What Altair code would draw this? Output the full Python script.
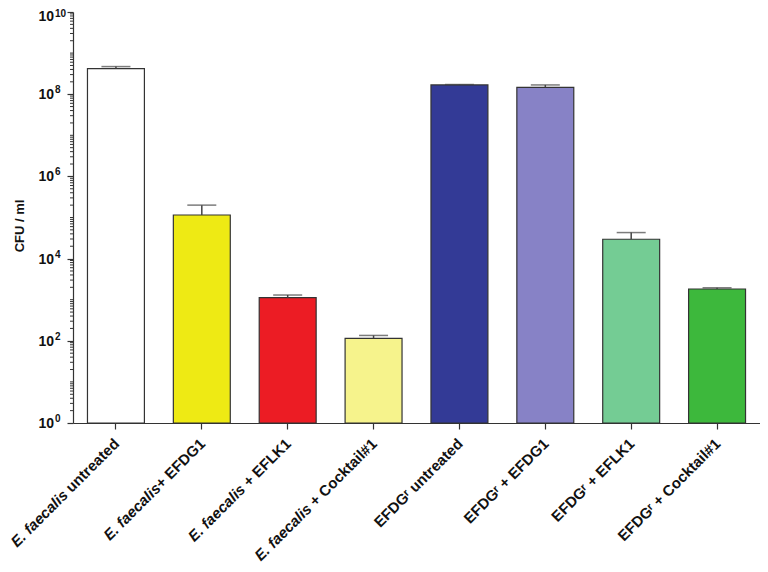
import altair as alt
import pandas as pd

# ---- data ----
italic_part = ["E. faecalis", "E. faecalis", "E. faecalis", "E. faecalis", "", "", "", ""]
plain_part = ["untreated", "+ EFDG1", "+ EFLK1", "+ Cocktail#1",
              "EFDGʳ untreated", "EFDGʳ + EFDG1", "EFDGʳ + EFLK1", "EFDGʳ + Cocktail#1"]
space_before = [True, False, True, True, False, False, False, False]
cfu = [4.2e8, 1.15e5, 1.12e3, 115, 1.68e8, 1.47e8, 2.96e4, 1.82e3]
err_top = [4.7e8, 2.0e5, 1.3e3, 135, 1.72e8, 1.68e8, 4.3e4, 1.95e3]
colors = ["#ffffff", "#eeea14", "#ec1c24", "#f6f38c", "#333a96", "#8782c6", "#74cc94", "#3db83c"]
exponents = [0, 2, 4, 6, 8, 10]
y_title = "CFU / ml"

keys = [f"{a}|{b}" for a, b in zip(italic_part, plain_part)]
df = pd.DataFrame({"key": keys, "cfu": cfu, "err": err_top, "plain": plain_part})

ticks_df = pd.DataFrame({"v": [10.0 ** e for e in exponents],
                         "base": ["10"] * len(exponents),
                         "exp": [str(e) for e in exponents],
                         "top": [e == max(exponents) for e in exponents]})
minor_vals = []
for n in range(0, 10):
    for k in range(2, 10):
        minor_vals.append(k * 10.0 ** n)
    if n % 2 == 1:
        minor_vals.append(10.0 ** n)
minor_df = pd.DataFrame({"v": minor_vals})

W, H = 687, 411
FONT = "Liberation Sans"
LFS = 15

# Arial-bold advance widths (per 1000 em) for label layout
ARIAL_BOLD = {' ': 278, '+': 584, '#': 556, '1': 556, 'E': 667, 'F': 611, 'D': 722, 'G': 778,
              'L': 611, 'K': 722, 'C': 722, 'o': 611, 'c': 556, 'k': 556, 't': 333, 'a': 556,
              'i': 278, 'l': 278, 'u': 611, 'n': 611, 'r': 389, 'e': 556, 'd': 611}


def text_width(s, fs):
    return sum(ARIAL_BOLD.get(ch, 556) for ch in s) * fs / 1000.0


x_scale = alt.Scale(domain=keys, paddingInner=0.337, paddingOuter=0.1685)
x_axis = alt.Axis(labels=False, title=None, tickSize=6, ticks=True, domainColor="#333333",
                  tickColor="#333333", domainWidth=1.2, tickWidth=1.2)
X = alt.X("key:N", sort=keys, scale=x_scale, axis=x_axis, title=None)

y_scale = alt.Scale(type="log", domain=[1, 1e10], nice=False)
y_axis = alt.Axis(values=[10.0 ** e for e in exponents], labels=False, grid=False, tickSize=6,
                  title=None, domainColor="#333333",
                  tickColor="#333333", domainWidth=1.2, tickWidth=1.2)


def Y(field):
    return alt.Y(field, scale=y_scale, axis=y_axis)


base = alt.Chart(df)

bars = base.mark_bar(stroke="#333333", strokeWidth=1.2).encode(
    x=X, y=Y("cfu:Q"), y2=alt.datum(1),
    color=alt.Color("key:N", scale=alt.Scale(domain=keys, range=colors), legend=None),
)
err_line = base.mark_rule(color="#444444", strokeWidth=1.5).encode(x=X, y=Y("cfu:Q"), y2="err:Q")
err_cap = base.mark_tick(color="#444444", thickness=1.5, size=29).encode(x=X, y=Y("err:Q"))

LY = H + 19
DX = 1
plain_labels = base.mark_text(angle=315, align="right", baseline="middle", fontSize=LFS,
                              fontWeight="bold", font=FONT, color="#111111", dx=DX).encode(
    x=X, y=alt.value(LY), text="plain:N")

layers = [bars, err_line, err_cap, plain_labels]

for i, (it, pl, sp) in enumerate(zip(italic_part, plain_part, space_before)):
    if not it:
        continue
    shift = text_width(pl, LFS) + (text_width(" ", LFS) if sp else 0.0)
    sub = pd.DataFrame({"key": [keys[i]], "t": [it]})
    layers.append(alt.Chart(sub).mark_text(
        angle=315, align="right", baseline="middle", fontSize=LFS, fontWeight="bold",
        fontStyle="italic", font=FONT, color="#111111", dx=DX - shift).encode(
        x=X, y=alt.value(LY), text="t:N"))

# y tick labels "10" with superscript exponent (top one nudged down to stay on the page)
for is_top, bshift, eshift in [(False, 0, 0), (True, 4, 6)]:
    sub = alt.Chart(ticks_df).transform_filter(alt.datum.top == is_top)
    layers.append(sub.mark_text(align="right", baseline="middle", fontSize=14, fontWeight="bold",
                                font=FONT, color="#111111", dy=1 + bshift).encode(
        x=alt.value(-19), y=Y("v:Q"), text="base:N"))
    layers.append(sub.mark_text(align="left", baseline="middle", fontSize=10, fontWeight="bold",
                                font=FONT, color="#111111", dy=-4 + eshift).encode(
        x=alt.value(-18), y=Y("v:Q"), text="exp:N"))

minor = alt.Chart(minor_df).mark_rule(color="#333333", strokeWidth=1).encode(
    x=alt.value(-3), x2=alt.value(0), y=Y("v:Q"))
title_df = pd.DataFrame({"t": [y_title]})
ytitle = alt.Chart(title_df).mark_text(angle=270, align="center", baseline="middle", fontSize=13,
                                       fontWeight="bold", font=FONT, color="#111111").encode(
    x=alt.value(-53), y=alt.value(214), text="t:N")

layers += [minor, ytitle]

chart = alt.layer(*layers).properties(
    width=W, height=H,
    autosize=alt.AutoSizeParams(type="none"),
    padding={"left": 65, "top": 4, "right": 0, "bottom": 141},
).configure(background="white").configure_view(stroke=None)

chart.save("out.html", embed_options={"renderer": "svg", "actions": False})
